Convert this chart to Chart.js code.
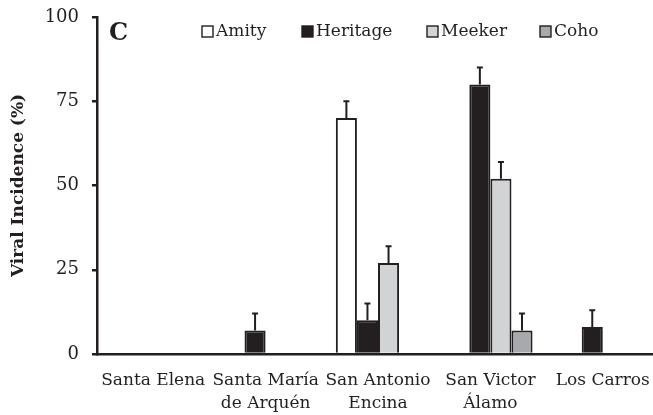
<!DOCTYPE html>
<html>
<head>
<meta charset="utf-8">
<script src="https://cdn.jsdelivr.net/npm/chart.js@4.4.1/dist/chart.umd.min.js"></script>
<style>
  html, body { margin: 0; padding: 0; overflow: hidden; background: #fff; }
  #wrap { width: 662px; height: 415px; position: relative; }
</style>
</head>
<body>
<div id="wrap"><canvas id="chart"></canvas></div>
<script>
// 地点（两行标签）
const sites = [
  ['Santa Elena'],
  ['Santa María', 'de Arquén'],
  ['San Antonio', 'Encina'],
  ['San Victor', 'Álamo'],
  ['Los Carros']
];
const varieties = ['Amity', 'Heritage', 'Meeker', 'Coho'];

// 病毒发生率 (%)
const amity    = [0, 0, 70, 0, 0];
const heritage = [0, 7, 10, 80, 8];
const meeker   = [0, 0, 27, 52, 0];
const coho     = [0, 0, 0, 7, 0];

// 误差（仅向上）
const amityErr    = [0, 0, 5, 0, 0];
const heritageErr = [0, 5, 5, 5, 5];
const meekerErr   = [0, 0, 5, 5, 0];
const cohoErr     = [0, 0, 0, 5, 0];

const yTicks = [0, 25, 50, 75, 100];

const fills = ['#ffffff', '#231f20', '#d1d3d4', '#a7a9ac'];
const FONT = '"DejaVu Serif", serif';

/**
 * 误差线 + 图例 + 面板字母
 */
const extrasPlugin = {
  id: 'extras',
  afterDatasetsDraw(chart) {
    const ctx = chart.ctx;
    const y = chart.scales.y;
    ctx.save();
    ctx.strokeStyle = '#231f20';
    ctx.lineWidth = 2;
    chart.data.datasets.forEach((ds, i) => {
      const meta = chart.getDatasetMeta(i);
      meta.data.forEach((bar, j) => {
        const v = ds.data[j];
        const e = ds.errors[j];
        if (!v || !e) return;
        const top = y.getPixelForValue(v + e);
        ctx.beginPath();
        ctx.moveTo(bar.x, bar.y);
        ctx.lineTo(bar.x, top);
        ctx.moveTo(bar.x - 3, top);
        ctx.lineTo(bar.x + 3, top);
        ctx.stroke();
      });
    });

    // 面板字母
    ctx.fillStyle = '#231f20';
    ctx.font = 'bold 24px ' + FONT;
    ctx.textBaseline = 'middle';
    ctx.textAlign = 'left';
    ctx.fillText('C', 109, 34);

    // 图例
    const boxX = [202, 302, 427, 540];
    ctx.font = '17px ' + FONT;
    varieties.forEach((name, i) => {
      ctx.fillStyle = fills[i];
      ctx.fillRect(boxX[i], 26, 11, 11);
      ctx.lineWidth = 1.4;
      ctx.strokeStyle = '#231f20';
      ctx.strokeRect(boxX[i], 26, 11, 11);
      ctx.fillStyle = '#231f20';
      ctx.fillText(name, boxX[i] + 14, 31.5);
    });
    ctx.restore();
  }
};

const series = [amity, heritage, meeker, coho];
const errs = [amityErr, heritageErr, meekerErr, cohoErr];

new Chart(document.getElementById('chart'), {
  type: 'bar',
  data: {
    labels: sites,
    datasets: varieties.map((name, i) => ({
      label: name,
      data: series[i],
      errors: errs[i],
      backgroundColor: fills[i],
      borderColor: '#231f20',
      borderWidth: 2,
      borderSkipped: 'bottom'
    }))
  },
  options: {
    responsive: true,
    maintainAspectRatio: false,
    animation: false,
    layout: { padding: { top: 17, right: 3, left: 0, bottom: 0 } },
    datasets: { bar: { categoryPercentage: 0.75, barPercentage: 1 } },
    plugins: {
      legend: { display: false },
      tooltip: { enabled: false }
    },
    scales: {
      x: {
        grid: { display: false },
        border: { color: '#231f20', width: 2.5 },
        ticks: {
          color: '#231f20',
          font: { family: FONT, size: 17, lineHeight: 1.3 },
          padding: 8,
          maxRotation: 0,
          autoSkip: false
        },
        afterFit(scale) { scale.height = 61; }
      },
      y: {
        min: 0,
        max: 100,
        afterBuildTicks(scale) { scale.ticks = yTicks.map(v => ({ value: v })); },
        grid: {
          drawOnChartArea: false,
          drawTicks: true,
          tickLength: 5,
          color: '#231f20',
          lineWidth: 2.5
        },
        border: { color: '#231f20', width: 2.5 },
        ticks: {
          color: '#231f20',
          font: { family: FONT, size: 18, lineHeight: 0.4 },
          padding: 13
        },
        title: {
          display: true,
          text: 'Viral Incidence (%)',
          color: '#231f20',
          font: { family: FONT, size: 17, weight: 'bold' },
          padding: { top: 8, bottom: 0 }
        },
        afterFit(scale) { scale.width = 97; }
      }
    }
  },
  plugins: [extrasPlugin]
});
</script>
</body>
</html>
